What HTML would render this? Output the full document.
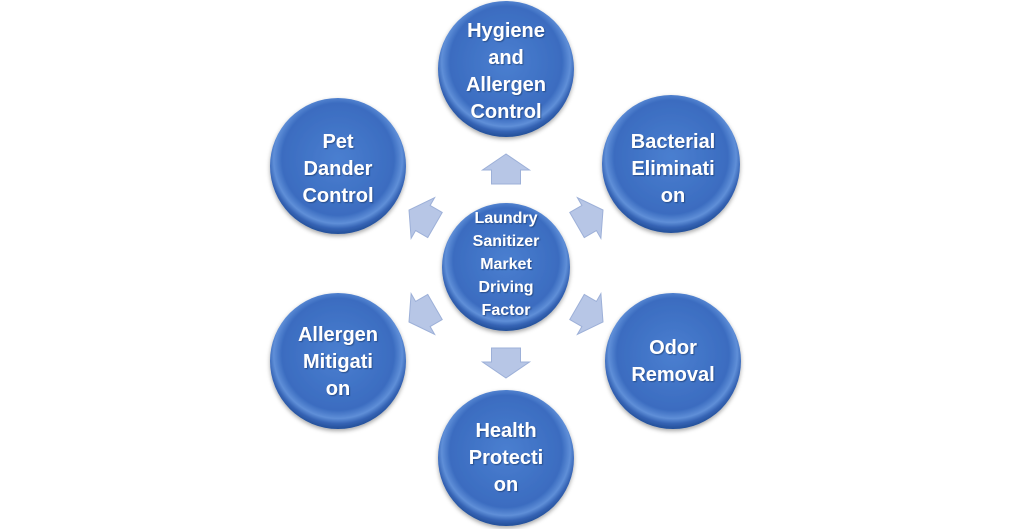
<!DOCTYPE html>
<html><head><meta charset="utf-8"><style>
html,body{margin:0;padding:0;background:#fff;}
svg{display:block}
text{font-family:"Liberation Sans",sans-serif;font-weight:bold;fill:#fff;text-anchor:middle;}
</style></head><body>
<svg width="1019" height="529" viewBox="0 0 1019 529" xmlns="http://www.w3.org/2000/svg">
<defs>
<radialGradient id="g" cx="50%" cy="45%" r="55%">
<stop offset="0" stop-color="#4a7fd0"/>
<stop offset="0.75" stop-color="#3b6cc0"/>
<stop offset="0.86" stop-color="#5f8fd8"/>
<stop offset="0.93" stop-color="#3563b4"/>
<stop offset="1" stop-color="#234f98"/>
</radialGradient>
<filter id="s" x="-20%" y="-20%" width="140%" height="140%"><feDropShadow dx="0" dy="2" stdDeviation="2" flood-color="#000" flood-opacity="0.35"/></filter>
<filter id="ts"><feDropShadow dx="1" dy="1" stdDeviation="0.6" flood-color="#1a3a70" flood-opacity="0.7"/></filter>
<polygon id="a" points="0,-15 -23.5,1 -14.5,1 -14.5,15 14.5,15 14.5,1 23.5,1" fill="#b7c6e6" stroke="#9db0d8" stroke-width="1"/>
</defs>
<g transform="translate(506,266)">
<use href="#a" transform="rotate(0) translate(0,-97)"/>
<use href="#a" transform="rotate(60) translate(0,-97)"/>
<use href="#a" transform="rotate(120) translate(0,-97)"/>
<use href="#a" transform="rotate(180) translate(0,-97)"/>
<use href="#a" transform="rotate(240) translate(0,-97)"/>
<use href="#a" transform="rotate(300) translate(0,-97)"/>
</g>
<g filter="url(#s)">
<circle cx="506" cy="267" r="64" fill="url(#g)"/>
<circle cx="506" cy="69" r="68" fill="url(#g)"/>
<circle cx="671" cy="164" r="69" fill="url(#g)"/>
<circle cx="673" cy="361" r="68" fill="url(#g)"/>
<circle cx="506" cy="458" r="68" fill="url(#g)"/>
<circle cx="338" cy="361" r="68" fill="url(#g)"/>
<circle cx="338" cy="166" r="68" fill="url(#g)"/>
</g>
<g filter="url(#ts)">
<g font-size="16">
<text x="506" y="223">Laundry</text>
<text x="506" y="246">Sanitizer</text>
<text x="506" y="269">Market</text>
<text x="506" y="292">Driving</text>
<text x="506" y="315">Factor</text>
</g>
<g font-size="20">
<text x="506" y="37">Hygiene</text>
<text x="506" y="64">and</text>
<text x="506" y="91">Allergen</text>
<text x="506" y="118">Control</text>
<text x="673" y="148">Bacterial</text>
<text x="673" y="175">Eliminati</text>
<text x="673" y="202">on</text>
<text x="673" y="354">Odor</text>
<text x="673" y="381">Removal</text>
<text x="506" y="437">Health</text>
<text x="506" y="464">Protecti</text>
<text x="506" y="491">on</text>
<text x="338" y="341">Allergen</text>
<text x="338" y="368">Mitigati</text>
<text x="338" y="395">on</text>
<text x="338" y="148">Pet</text>
<text x="338" y="175">Dander</text>
<text x="338" y="202">Control</text>
</g>
</g>
</svg>
</body></html>
